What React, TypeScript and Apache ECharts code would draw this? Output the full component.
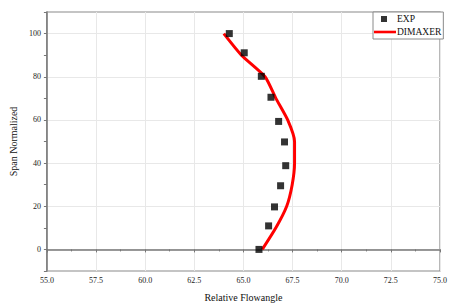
import React, { useEffect, useRef } from "react";
import * as echarts from "echarts";

const expSpan = [0, 10.9, 19.7, 29.5, 38.8, 49.8, 59.3, 70.5, 80.2, 91.1, 100];
const expAngle = [65.79, 66.28, 66.58, 66.89, 67.15, 67.09, 66.79, 66.4, 65.91, 65.04, 64.28];

const dimSpan = [0, 10, 20, 30, 40, 50, 60, 70, 80, 90, 100];
const dimAngle = [65.96, 66.65, 67.2, 67.48, 67.6, 67.6, 67.25, 66.65, 66.1, 64.9, 64.0];

const xTicks = [55, 57.5, 60, 62.5, 65, 67.5, 70, 72.5, 75];
const yLabels = [0, 20, 40, 60, 80, 100];

const FONT = "'Liberation Serif', 'Times New Roman', serif";

export default function App() {
  const ref = useRef<HTMLDivElement>(null);
  useEffect(() => {
    if (!ref.current) return;
    const chart = echarts.init(ref.current, null, { renderer: "svg" });
    chart.setOption({
      animation: false,
      backgroundColor: "#fff",
      textStyle: { fontFamily: FONT },
      grid: {
        left: 44,
        right: 9,
        top: 12,
        bottom: 35,
        show: true,
        borderColor: "#8a8a8a",
        borderWidth: 1.2,
      },
      legend: {
        left: 373,
        top: 12,
        orient: "vertical",
        itemGap: 3,
        itemWidth: 22,
        itemHeight: 7,
        padding: [2, 2, 2, 1],
        borderColor: "#8a8a8a",
        borderWidth: 1,
        backgroundColor: "#fff",
        textStyle: { fontFamily: FONT, fontSize: 9.5, color: "#111", padding: [0, 0, 0, -4] },
        data: [
          {
            name: "EXP",
            icon: "path://M0,0 M22,7 M7,0.5h6v6h-6z",
            itemStyle: { color: "#000" },
          },
          {
            name: "DIMAXER",
            icon: "path://M0,0 M22,7 M0,2.2h22v2.6h-22z",
            itemStyle: { color: "#ff0000" },
          },
        ],
      },
      xAxis: {
        type: "value",
        min: xTicks[0],
        max: xTicks[xTicks.length - 1],
        interval: 2.5,
        name: "Relative Flowangle",
        nameLocation: "middle",
        nameGap: 21,
        nameTextStyle: { fontFamily: FONT, fontSize: 10, color: "#111" },
        axisLine: { show: true, lineStyle: { color: "#777", width: 1.5 } },
        axisTick: { show: true, length: 3, lineStyle: { color: "#777" } },
        minorTick: { show: true, splitNumber: 2, length: 2, lineStyle: { color: "#777" } },
        axisLabel: {
          fontFamily: FONT,
          fontSize: 8,
          color: "#222",
          margin: 5,
          formatter: (v: number) => v.toFixed(1),
        },
        splitLine: { show: true, lineStyle: { color: "#e8e8e8", width: 1 } },
      },
      yAxis: {
        type: "value",
        min: -10,
        max: 110,
        interval: 10,
        name: "Span Normalized",
        nameLocation: "middle",
        nameGap: 19,
        nameTextStyle: { fontFamily: FONT, fontSize: 10, color: "#111" },
        axisLine: { show: true, lineStyle: { color: "#777", width: 1.5 } },
        axisTick: { show: true, length: 3, lineStyle: { color: "#777" } },
        axisLabel: {
          fontFamily: FONT,
          fontSize: 8,
          color: "#222",
          margin: 6,
          formatter: (v: number) => (yLabels.includes(v) ? String(v) : ""),
        },
        splitLine: {
          show: true,
          lineStyle: { color: ["transparent", "#e8e8e8"], width: 1 },
        },
      },
      series: [
        {
          name: "DIMAXER",
          type: "line",
          data: dimAngle.map((a, i) => [a, dimSpan[i]]),
          showSymbol: false,
          symbol: "none",
          color: "#ff0000",
          lineStyle: { color: "#ff0000", width: 3 },
          smooth: 0.2,
          z: 2,
        },
        {
          name: "EXP",
          type: "scatter",
          data: expAngle.map((a, i) => [a, expSpan[i]]),
          symbol: "rect",
          symbolSize: 7,
          itemStyle: { color: "#000" },
          z: 3,
        },
      ],
    });
    return () => chart.dispose();
  }, []);
  return <div ref={ref} style={{ width: 450, height: 307, position: "absolute", left: 0, top: 0 }} />;
}
